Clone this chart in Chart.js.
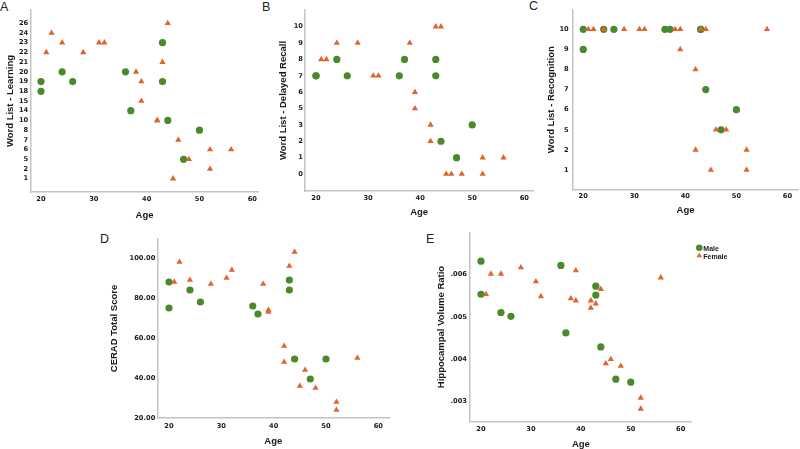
<!DOCTYPE html>
<html>
<head>
<meta charset="utf-8">
<script src="https://cdn.jsdelivr.net/npm/chart.js@4.4.0/dist/chart.umd.min.js"></script>
<style>
html, body { margin: 0; padding: 0; background: #fff; width: 800px; height: 449px; overflow: hidden; position: relative; }
canvas { position: absolute; }
.tag { position: absolute; font: 12.5px "Liberation Sans", Arial, sans-serif; line-height: 12px; color: #222; }
</style>
</head>
<body>
<div class="tag" style="left:0px;top:1px">A</div>
<div class="tag" style="left:262px;top:1px">B</div>
<div class="tag" style="left:529px;top:0px">C</div>
<div class="tag" style="left:100px;top:233px">D</div>
<div class="tag" style="left:426px;top:233px">E</div>
<canvas id="chartA"></canvas>
<canvas id="chartB"></canvas>
<canvas id="chartC"></canvas>
<canvas id="chartD"></canvas>
<canvas id="chartE"></canvas>
<script>
// ages of the participants, one entry per person
const maleAge = [20, 20, 24, 26, 36, 37, 43, 43, 44, 47, 50];
const femaleAge = [21, 22, 24, 28, 31, 32, 38, 39, 39, 42, 42, 43, 44, 45, 46, 48, 52, 52, 56];

const maleLearning = [19, 18, 20, 19, 20, 14, 23, 19, 10, 5, 8];
const femaleLearning = [22, 24, 23, 22, 23, 23, 20, 19, 15, 10, 10, 21, 26, 1, 7, 5, 6, 2, 6];
const maleRecall = [7, 7, 8, 7, 7, 8, 8, 7, 2, 1, 3];
const femaleRecall = [8, 8, 9, 9, 7, 7, 9, 6, 5, 3, 2, 10, 10, 0, 0, 0, 1, 0, 1];
const maleRecog = [10, 9, 10, 10, 10, 10, 10, 10, 7, 5, 6];
const femaleRecog = [10, 10, 10, 10, 10, 10, 10, 10, 9, 8, 2, 10, 10, 1, 5, 5, 2, 1, 10];
const maleCerad = [88, 75, 84, 78, 76, 72, 89, 84, 49.5, 39.5, 49.5];
const femaleCerad = [88, 98, 89, 87, 90, 94, 87, 74, 73, 56, 48, 96, 103, 36, 44, 35, 28, 24, 50];
const maleHippo = [0.00631, 0.00553, 0.00510, 0.00501, 0.00621, 0.00462, 0.00572, 0.00551, 0.00429, 0.00353, 0.00346];
const femaleHippo = [0.00553, 0.00601, 0.00601, 0.00616, 0.00583, 0.00548, 0.00543, 0.00609, 0.00538, 0.00538, 0.00521, 0.00531, 0.00565, 0.00390, 0.00400, 0.00384, 0.00309, 0.00283, 0.00592];

// tick labels (A-C axes are ordinal: only observed scores get a slot)
const ageTicks = [20, 30, 40, 50, 60];
const learningTicks = [1, 2, 5, 6, 7, 8, 10, 14, 15, 18, 19, 20, 21, 22, 23, 24, 26];
const recallTicks = [0, 1, 2, 3, 5, 6, 7, 8, 9, 10];
const recogTicks = [1, 2, 5, 6, 7, 8, 9, 10];
const ceradTicks = [20, 40, 60, 80, 100];
const hippoTicks = [0.003, 0.004, 0.005, 0.006];

const green = '#4a8a2c';
const orange = '#e0642c';
const axisGrey = '#c4c4c4';
const ink = '#1a1a1a';
const tickFont = { family: 'DejaVu Sans', size: 6.7, weight: 'bold' };
const titleFont = { family: 'Liberation Sans', size: 9.5, weight: 'bold' };

// small key drawn to the right of panel E
const sexKey = {
    id: 'sexKey',
    afterDraw(chart) {
        const { ctx, chartArea } = chart;
        ctx.save();
        ctx.font = 'bold 7px "Liberation Sans", Arial, sans-serif';
        ctx.textBaseline = 'middle';
        chart.data.datasets.forEach((ds, i) => {
            const x = chartArea.right + 7.6;
            const y = chartArea.top + 15.4 + i * 8;
            ctx.fillStyle = ds.backgroundColor;
            ctx.beginPath();
            if (ds.pointStyle === 'circle') {
                ctx.arc(x, y, 3.3, 0, Math.PI * 2);
            } else {
                ctx.moveTo(x, y - 3.2);
                ctx.lineTo(x + 2.8, y + 1.6);
                ctx.lineTo(x - 2.8, y + 1.6);
                ctx.closePath();
            }
            ctx.fill();
            ctx.fillStyle = ink;
            ctx.fillText(ds.label, x + 4, y + 1);
        });
        ctx.restore();
    }
};

function pairs(ages, values, levels) {
    return ages.map((a, i) => ({ x: a, y: levels ? levels.indexOf(values[i]) : values[i] }));
}

function makePanel(id, p) {
    const cv = document.getElementById(id);
    const [bl, bt, bw, bh] = p.box;
    const [L, R, T, B] = p.area;
    cv.width = bw;
    cv.height = bh;
    cv.style.left = bl + 'px';
    cv.style.top = bt + 'px';
    const half = titleFont.size * 1.2 / 2;
    const scaleLeft = p.titleX - half;
    const scaleBottom = p.titleY + half;
    const yW = L - scaleLeft;
    const xH = scaleBottom - B;

    new Chart(cv, {
        type: 'scatter',
        data: {
            datasets: [{
                label: 'Male',
                data: p.male,
                pointStyle: 'circle',
                pointRadius: 3.6,
                pointHoverRadius: 3.6,
                backgroundColor: green,
                borderWidth: 0,
                order: 1
            }, {
                label: 'Female',
                data: p.female,
                pointStyle: 'triangle',
                pointRadius: 3.6,
                pointHoverRadius: 3.6,
                backgroundColor: orange,
                borderWidth: 0,
                order: 0
            }]
        },
        options: {
            responsive: false,
            animation: false,
            events: [],
            layout: {
                padding: { left: scaleLeft - bl, top: T - bt, right: bl + bw - R, bottom: bt + bh - scaleBottom }
            },
            plugins: {
                legend: { display: false },
                tooltip: { enabled: false }
            },
            scales: {
                x: {
                    type: 'linear',
                    min: p.xMin,
                    max: p.xMax,
                    grid: { display: false, drawTicks: false },
                    border: { color: axisGrey, width: 1.5 },
                    afterBuildTicks: s => { s.ticks = ageTicks.map(v => ({ value: v })); },
                    afterFit: s => { s.height = xH; },
                    ticks: { font: tickFont, color: ink, padding: p.xPad, maxRotation: 0, autoSkip: false },
                    title: { display: true, text: 'Age', font: titleFont, color: ink, padding: 0 }
                },
                y: {
                    type: 'linear',
                    min: p.yMin,
                    max: p.yMax,
                    grid: { display: false, drawTicks: false },
                    border: { color: axisGrey, width: 1.5 },
                    afterBuildTicks: s => { s.ticks = p.tickValues.map(v => ({ value: v })); },
                    afterFit: s => { s.width = yW; },
                    ticks: { font: tickFont, color: ink, padding: p.yPad, autoSkip: false, callback: p.label },
                    title: { display: true, text: p.title, font: titleFont, color: ink, padding: 0 }
                }
            }
        },
        plugins: p.key ? [sexKey] : []
    });
}

makePanel('chartA', {
    box: [0, -12, 262, 236], area: [30.7, 258.3, 10, 192], titleX: 10.3, titleY: 215,
    xMin: 18.05, xMax: 61.14, yMin: -1.369, yMax: 17.369, xPad: 3.4, yPad: 2.5,
    title: 'Word List - Learning',
    tickValues: learningTicks.map((v, i) => i), label: v => learningTicks[v],
    male: pairs(maleAge, maleLearning, learningTicks),
    female: pairs(femaleAge, femaleLearning, learningTicks)
});

makePanel('chartB', {
    box: [270, -12, 268, 236], area: [305, 533.3, 10, 191], titleX: 283.3, titleY: 212.7,
    xMin: 17.89, xMax: 61.73, yMin: -1.039, yMax: 10.02, xPad: 2.8, yPad: 2,
    title: 'Word List - Delayed Recall',
    tickValues: recallTicks.map((v, i) => i), label: v => recallTicks[v],
    male: pairs(maleAge, maleRecall, recallTicks),
    female: pairs(femaleAge, femaleRecall, recallTicks)
});

makePanel('chartC', {
    box: [540, -12, 262, 236], area: [572.7, 799.3, 10, 189.3], titleX: 551.5, titleY: 210.7,
    xMin: 17.93, xMax: 62.15, yMin: -0.96, yMax: 7.96, xPad: 2.8, yPad: 4,
    title: 'Word List - Recognition',
    tickValues: recogTicks.map((v, i) => i), label: v => recogTicks[v],
    male: pairs(maleAge, maleRecog, recogTicks),
    female: pairs(femaleAge, femaleRecog, recogTicks)
});

makePanel('chartD', {
    box: [100, 215, 295, 236], area: [157.3, 389.3, 239, 418], titleX: 114.3, titleY: 441.7,
    xMin: 17.76, xMax: 62.1, yMin: 20, yMax: 109.5, xPad: 3.8, yPad: 2,
    title: 'CERAD Total Score',
    tickValues: ceradTicks, label: v => v.toFixed(2),
    male: pairs(maleAge, maleCerad),
    female: pairs(femaleAge, femaleCerad)
});

makePanel('chartE', {
    box: [430, 208, 340, 243], area: [470, 691.7, 232.3, 421.7], titleX: 441.3, titleY: 444,
    xMin: 17.8, xMax: 62.2, yMin: 0.002529, yMax: 0.006989, xPad: 3.4, yPad: 3,
    title: 'Hippocampal Volume Ratio',
    tickValues: hippoTicks, label: v => v.toFixed(3).replace(/^0/, ''),
    male: pairs(maleAge, maleHippo),
    female: pairs(femaleAge, femaleHippo),
    key: true
});
</script>
</body>
</html>
